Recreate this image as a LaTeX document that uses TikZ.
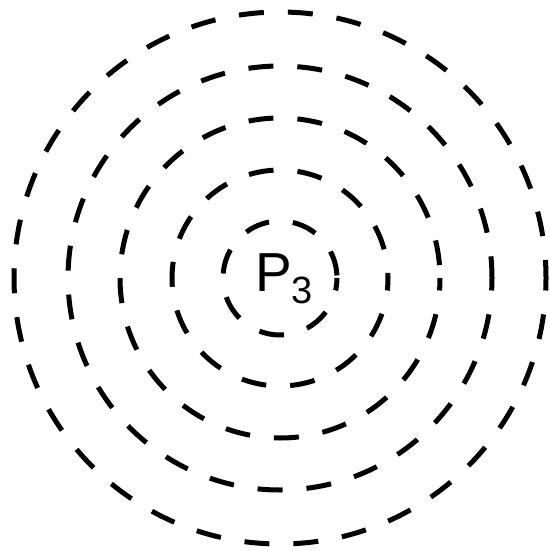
\documentclass[tikz,border=0pt]{standalone}
\usepackage{fontspec}
\setmainfont{Liberation Sans}
\usepackage{tikz}

\begin{document}
\begin{tikzpicture}[
  x=1pt, y=-1pt,
  ring/.style={draw=black, line width=5pt, dash pattern=on 25pt off 24pt, dash phase=12.5pt},
  lbl/.style={inner sep=0pt, anchor=base, font=\fontsize{55}{55}\selectfont}
]
% Fixed frame of the picture
\useasboundingbox (0,0) rectangle (549,551);

\coordinate (ctr) at (280,278);

% Concentric dashed rings
\foreach \r in {57,108,160,212,266}
  \draw[ring] (ctr) circle (\r);

% Centre label
\node[lbl] (p3) at (284,291) {P\raisebox{-12pt}{\fontsize{38}{38}\selectfont 3}};

\end{tikzpicture}
\end{document}
